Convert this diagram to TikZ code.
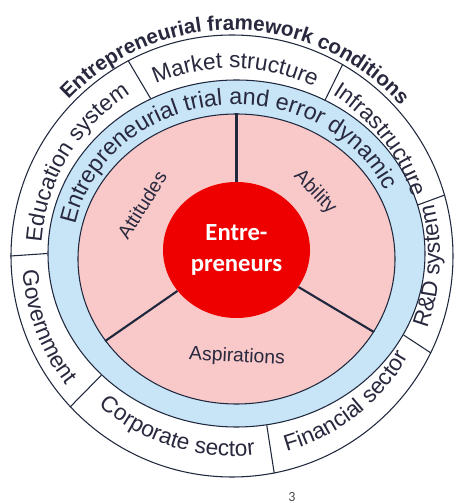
\documentclass[tikz,border=0pt]{standalone}
\usepackage{fontspec}
\setmainfont{Liberation Sans}
\newfontfamily\carlito{Carlito}
\usepackage{tikz}
\usetikzlibrary{shapes.geometric}
\usetikzlibrary{decorations.text}
\usepackage{xcolor}
\definecolor{pinkfill}{RGB}{249,201,201}
\definecolor{bluefill}{RGB}{199,229,247}
\definecolor{redfill}{RGB}{238,0,0}
\definecolor{rimcol}{RGB}{32,40,62}
\definecolor{labcol}{RGB}{40,40,62}

\begin{document}
\begin{tikzpicture}[x=0.75pt, y=0.75pt]
        % ================= 样式定义 =================
        \tikzset{
            % 圆环轮廓
            ring/.style={draw=rimcol, line width=0.8pt, inner sep=0pt},
            % 外环分隔线
            rim/.style={draw=rimcol, line width=0.8pt},
            % 扇区分割线
            spoke/.style={draw=rimcol, line width=1.6pt},
            % 中心:红色椭圆内的文字
            core/.style={text=white, align=center, inner sep=0pt, font=\carlito\bfseries\fontsize{18.5}{23.5}\selectfont},
            % 扇区文字
            facet/.style={text=labcol, inner sep=0pt, font=\fontsize{14.5}{17}\selectfont},
            % 页码
            pagenum/.style={text=black!70, inner sep=0pt, font=\carlito\fontsize{10.5}{12}\selectfont},
            % 沿弧排列的文字
            ringtext/.style={decorate, decoration={text along path, text align=center, text color=labcol,
                text={|\fontsize{17}{20}\selectfont|#1}}},
            bluetext/.style={decorate, decoration={text along path, text align=center, text color=labcol,
                text={|\fontsize{17.5}{20}\selectfont|#1}}},
            titletext/.style={decorate, decoration={text along path, text align=center, text color=labcol,
                text={|\fontsize{15.5}{18}\selectfont\bfseries|#1}}}
        }

        \useasboundingbox (-235,-248) rectangle (223,255);
        \fill[white] (-235,-248) rectangle (223,255);

        % ================= 外环:创业框架条件 =================
        \node[ring, circle, fill=white, minimum size=331.5pt] (outer) at (-3,-1) {};

        % ================= 中环:试错动态 (浅蓝) =================
        \node[ring, ellipse, fill=bluefill, minimum width=282.75pt, minimum height=260.25pt] (blue) at (1.5,1.5) {};

        % 外环分隔线
        \draw[rim] (outer.118) -- (blue.119);
        \draw[rim] (outer.60) -- (blue.60);
        \draw[rim] (outer.16) -- (blue.15);
        \draw[rim] (outer.-26) -- (blue.-26);
        \draw[rim] (outer.-79) -- (blue.-80);
        \draw[rim] (outer.223) -- (blue.222);
        \draw[rim] (outer.180) -- (blue.180);

        % ================= 内圈:三个扇区 (粉色) =================
        \node[ring, ellipse, fill=pinkfill, minimum width=237.75pt, minimum height=217.5pt] (pink) at (1.5,-4) {};

        % 中心红色椭圆
        \node[core, ellipse, fill=redfill, minimum width=110.25pt, minimum height=102pt] (red) at (1.5,5) {Entre-\\preneurs};

        % 扇区分割线
        \draw[spoke] (red) -- (pink.90);
        \draw[spoke] (red) -- (pink.212);
        \draw[spoke] (red) -- (pink.332);

        % 扇区文字
        \node[facet, rotate=58] (attitudes) at (-93,50) {Attitudes};
        \node[facet, rotate=-46] (ability) at (80,63) {Ability};
        \node[facet, rotate=-3] (aspirations) at (2,-102) {Aspirations};

        % ================= 弧形文字 =================
        \path[titletext={Entrepreneurial framework conditions}] (outer.center) ++(150:226) arc[start angle=150, end angle=28, radius=226];
        \path[bluetext={Entrepreneurial trial and error dynamic}] (blue.center) ++(187:164 and 149) arc[start angle=187, end angle=7, x radius=164, y radius=149];

        % 上半部分 (顺时针)
        \path[ringtext={Education system}] (outer.center) ++(180:191) arc[start angle=180, end angle=118, radius=191];
        \path[ringtext={Market structure}] (outer.center) ++(119:188) arc[start angle=119, end angle=59, radius=188];
        \path[ringtext={Infrastructure}] (outer.center) ++(60:190) arc[start angle=60, end angle=16, radius=190];

        % 下半部分 (逆时针)
        \path[ringtext={R{\&}D system}] (outer.center) ++(-33:208) arc[start angle=-33, end angle=27, radius=208];
        \path[ringtext={Financial sector}] (outer.center) ++(-79:203) arc[start angle=-79, end angle=-25, radius=203];
        \path[ringtext={Corporate sector}] (outer.center) ++(222:200) arc[start angle=222, end angle=283, radius=200];
        \path[ringtext={Government}] (outer.center) ++(181:210) arc[start angle=181, end angle=221, radius=210];

        % 页码
        \node[pagenum] (pnum) at (57,-242) {3};

    \end{tikzpicture}
\end{document}
